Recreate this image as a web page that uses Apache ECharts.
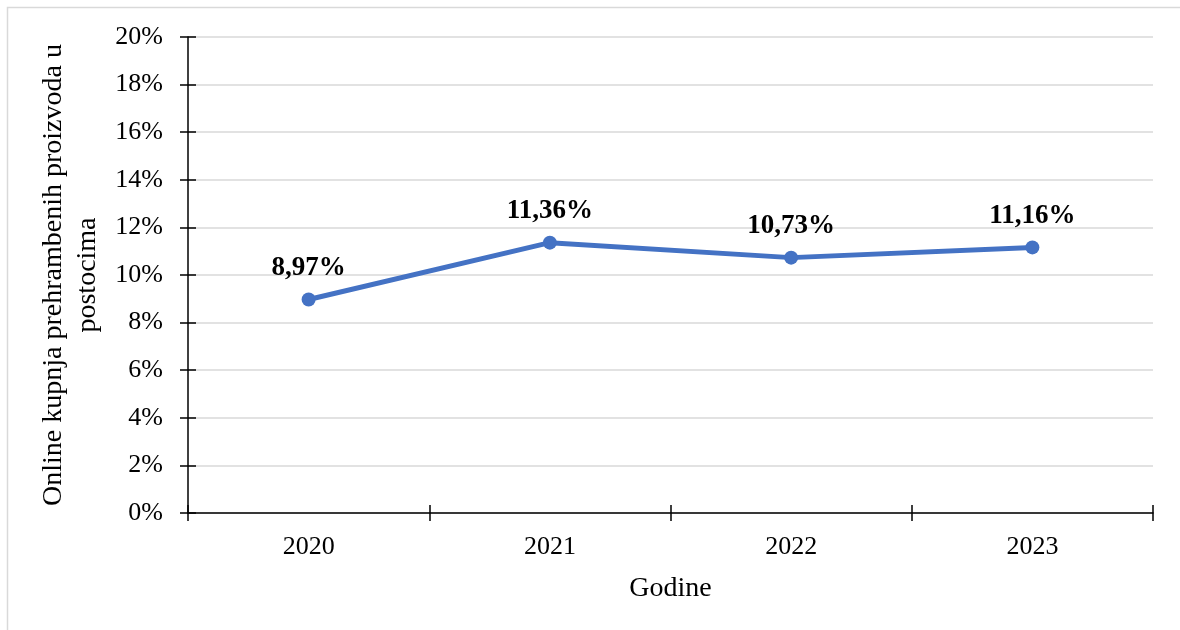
<!DOCTYPE html>
<html>
<head>
<meta charset="utf-8">
<script src="https://cdn.jsdelivr.net/npm/echarts@6/dist/echarts.min.js"></script>
<style>
  html, body { margin: 0; padding: 0; background: #ffffff; }
  #chart { width: 1180px; height: 630px; }
</style>
</head>
<body>
<div id="chart"></div>
<script>
// Online food purchases by year (percent)
const years = ['2020', '2021', '2022', '2023'];
const shares = [8.97, 11.36, 10.73, 11.16];
const yAxisTitle = 'Online kupnja prehrambenih proizvoda u\npostocima';
const xAxisTitle = 'Godine';

const FONT = '"Liberation Serif", "Times New Roman", serif';
const pct = v => v.toFixed(2).replace('.', ',') + '%';

const chart = echarts.init(document.getElementById('chart'), null, { renderer: 'canvas' });

const yBase = {
  type: 'value', min: 0, max: 20, interval: 2
};

chart.setOption({
  animation: false,
  backgroundColor: '#ffffff',
  graphic: [{
    type: 'rect',
    shape: { x: 7.5, y: 7.5, width: 1200, height: 700 },
    style: { fill: 'none', stroke: '#d9d9d9', lineWidth: 1.5 },
    silent: true
  }],
  grid: { left: 188, right: 27, top: 37, bottom: 117 },
  xAxis: [{
    type: 'category',
    data: years,
    boundaryGap: true,
    axisLine: { lineStyle: { color: '#000', width: 1.5 } },
    axisTick: { show: true, inside: false, length: 8, lineStyle: { color: '#000', width: 1.5 } },
    axisLabel: { color: '#000', fontFamily: FONT, fontSize: 26, margin: 21 },
    name: xAxisTitle,
    nameLocation: 'middle',
    nameGap: 62,
    nameTextStyle: { color: '#000', fontFamily: FONT, fontSize: 28 }
  }, {
    type: 'category',
    data: years,
    boundaryGap: true,
    position: 'bottom',
    axisLine: { show: false },
    axisTick: { show: true, inside: true, length: 8, lineStyle: { color: '#000', width: 1.5 } },
    axisLabel: { show: false }
  }],
  yAxis: [Object.assign({}, yBase, {
    axisLine: { show: true, lineStyle: { color: '#000', width: 1.5 } },
    axisTick: { show: true, inside: false, length: 8, lineStyle: { color: '#000', width: 1.5 } },
    splitLine: { show: true, lineStyle: { color: '#d9d9d9', width: 1.5 } },
    axisLabel: { color: '#000', fontFamily: FONT, fontSize: 26, margin: 25, formatter: '{value}%' },
    name: yAxisTitle,
    nameLocation: 'middle',
    nameGap: 79,
    nameRotate: 90,
    nameTextStyle: { color: '#000', fontFamily: FONT, fontSize: 28, lineHeight: 34, align: 'center' }
  }), Object.assign({}, yBase, {
    position: 'left',
    axisLine: { show: false },
    axisTick: { show: true, inside: true, length: 8, lineStyle: { color: '#000', width: 1.5 } },
    splitLine: { show: false },
    axisLabel: { show: false }
  })],
  series: [{
    type: 'line',
    data: shares,
    xAxisIndex: 0,
    yAxisIndex: 0,
    symbol: 'circle',
    symbolSize: 14,
    lineStyle: { color: '#4472c4', width: 5 },
    itemStyle: { color: '#4472c4' },
    label: {
      show: true,
      position: 'top',
      distance: 11,
      color: '#000',
      fontFamily: FONT,
      fontSize: 27,
      fontWeight: 'bold',
      formatter: p => pct(p.value)
    }
  }]
});
</script>
</body>
</html>
